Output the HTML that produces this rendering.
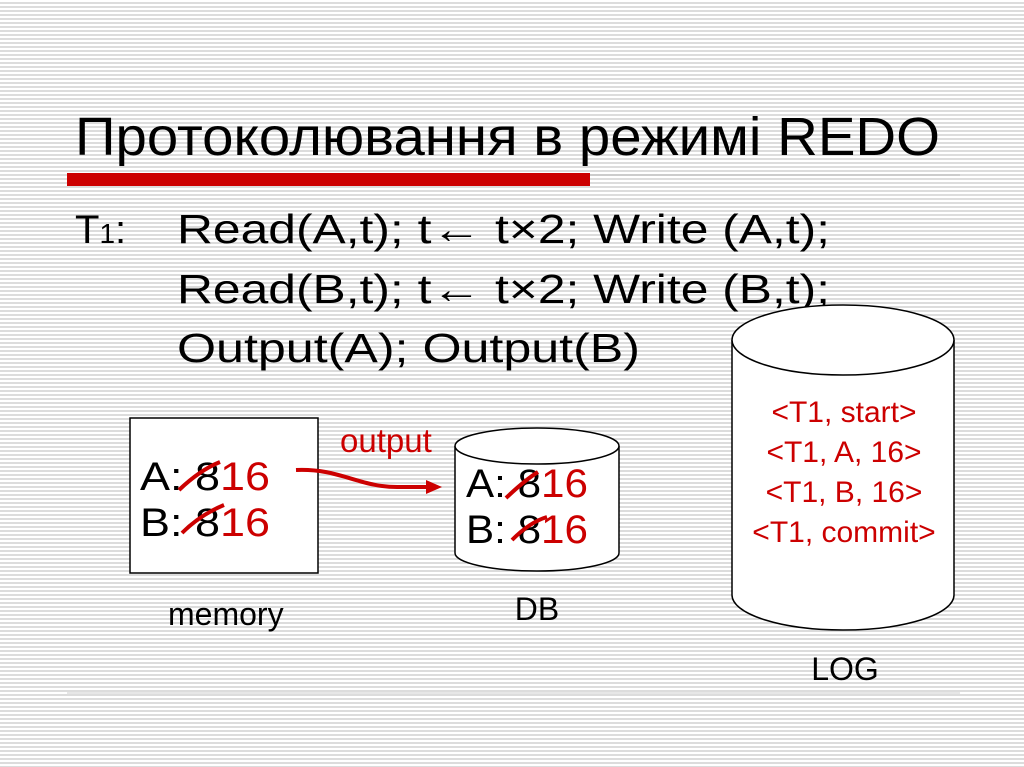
<!DOCTYPE html>
<html><head><meta charset="utf-8"><style>
html,body{margin:0;padding:0;}
body{width:1024px;height:767px;overflow:hidden;background:#fff repeating-linear-gradient(to bottom,#fff 0px,#fff 2px,#dcdcdc 2px,#dcdcdc 4px);}
svg{position:absolute;left:0;top:0;}
text{font-family:"Liberation Sans",sans-serif;}
</style></head><body>
<svg width="1024" height="767" viewBox="0 0 1024 767">
<text x="75" y="155" font-size="54" textLength="865" lengthAdjust="spacingAndGlyphs">Протоколювання в режимі REDO</text>
<rect x="67" y="173" width="523" height="13" fill="#cc0000"/>
<line x1="590" y1="175" x2="960" y2="175" stroke="#bbb" stroke-width="1"/>
<line x1="67" y1="693" x2="960" y2="693" stroke="#ccc" stroke-width="1"/>
<text x="75" y="243" font-size="40">T<tspan font-size="28">1</tspan>:</text>
<text x="177" y="243" font-size="41" textLength="653" lengthAdjust="spacingAndGlyphs">Read(A,t); t← t×2; Write (A,t);</text>
<text x="177" y="303" font-size="41" textLength="653" lengthAdjust="spacingAndGlyphs">Read(B,t); t← t×2; Write (B,t);</text>
<text x="177" y="362" font-size="41" textLength="463" lengthAdjust="spacingAndGlyphs">Output(A); Output(B)</text>
<!-- memory -->
<rect x="130" y="418" width="188" height="155" fill="#fff" stroke="#000" stroke-width="1.5"/>
<text x="140" y="490" font-size="40" textLength="130" lengthAdjust="spacingAndGlyphs">A: 8<tspan fill="#cc0000">16</tspan></text>
<text x="140" y="536" font-size="40" textLength="130" lengthAdjust="spacingAndGlyphs">B: 8<tspan fill="#cc0000">16</tspan></text>
<path d="M179 490 Q200 470 220 462" stroke="#cc0000" stroke-width="4" fill="none"/>
<path d="M182 533 Q200 515 224 505" stroke="#cc0000" stroke-width="4" fill="none"/>
<text x="168" y="625" font-size="32">memory</text>
<!-- arrow -->
<text x="340" y="452" font-size="33" fill="#cc0000">output</text>
<path d="M296 470 C340 468 360 488 400 487 L428 487" stroke="#cc0000" stroke-width="4" fill="none"/>
<polygon points="442,487 426,480 426,494" fill="#cc0000"/>
<!-- DB -->
<path d="M455 446 L455 553 A82 18 0 0 0 619 553 L619 446" fill="#fff" stroke="#000" stroke-width="1.5"/>
<ellipse cx="537" cy="446" rx="82" ry="18" fill="#fff" stroke="#000" stroke-width="1.5"/>
<text x="466" y="497" font-size="40" textLength="122" lengthAdjust="spacingAndGlyphs">A: 8<tspan fill="#cc0000">16</tspan></text>
<text x="466" y="543" font-size="40" textLength="122" lengthAdjust="spacingAndGlyphs">B: 8<tspan fill="#cc0000">16</tspan></text>
<path d="M506 498 Q525 480 538 472" stroke="#cc0000" stroke-width="4" fill="none"/>
<path d="M512 540 Q530 522 547 517" stroke="#cc0000" stroke-width="4" fill="none"/>
<text x="537" y="620" font-size="32" text-anchor="middle">DB</text>
<!-- LOG -->
<path d="M732 340 L732 595 A111 35 0 0 0 954 595 L954 340" fill="#fff" stroke="#000" stroke-width="1.5"/>
<ellipse cx="843" cy="340" rx="111" ry="35" fill="#fff" stroke="#000" stroke-width="1.5"/>
<g font-size="30" fill="#cc0000" text-anchor="middle">
<text x="844" y="422">&lt;T1, start&gt;</text>
<text x="844" y="462">&lt;T1, A, 16&gt;</text>
<text x="844" y="502">&lt;T1, B, 16&gt;</text>
<text x="844" y="542">&lt;T1, commit&gt;</text>
</g>
<text x="845" y="680" font-size="32" text-anchor="middle">LOG</text>
</svg>
</body></html>
